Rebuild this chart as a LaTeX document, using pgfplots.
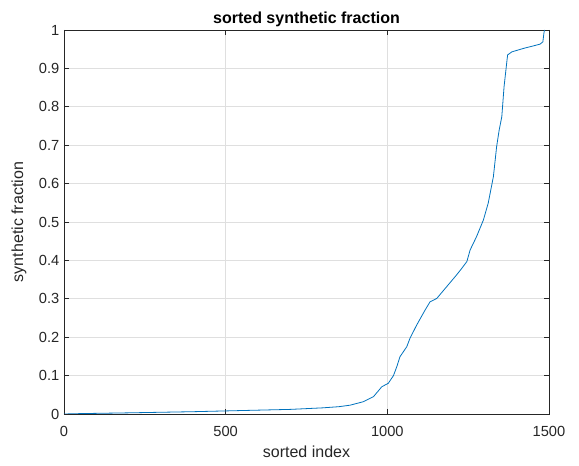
\documentclass[border=0pt]{standalone}
\usepackage{fontspec}
\setmainfont{Liberation Sans}
\usepackage{pgfplots}
\pgfplotsset{compat=1.18}
\definecolor{mlblue}{RGB}{0,114,189}
\definecolor{axgray}{RGB}{38,38,38}
\definecolor{gridgray}{RGB}{223,223,223}
\begin{document}
\begin{tikzpicture}
\useasboundingbox (-48pt,-39pt) rectangle (386.25pt,310.5pt);
\begin{axis}[
  at={(0,0)}, anchor=south west,
  scale only axis,
  width=363.75pt, height=288pt,
  xmin=0, xmax=1500, ymin=0, ymax=1,
  xtick={0,500,1000,1500},
  xticklabels={0,500,1000,1500},
  ytick={0,0.1,0.2,0.3,0.4,0.5,0.6,0.7,0.8,0.9,1},
  yticklabels={0,0.1,0.2,0.3,0.4,0.5,0.6,0.7,0.8,0.9,1},
  /pgf/number format/assume math mode=true,
  tick label style={font=\fontsize{11}{13}\selectfont, text=axgray},
  xticklabel style={yshift=-6pt},
  tick align=inside,
  major tick length=4pt,
  tick style={axgray, line width=0.5pt},
  axis line style={axgray, line width=0.5pt},
  grid=major,
  major grid style={gridgray, line width=0.5pt},
  title={\textbf{sorted synthetic fraction}},
  title style={font=\fontsize{12}{14}\selectfont, yshift=-7.5pt},
  xlabel={sorted index},
  ylabel={synthetic fraction},
  label style={font=\fontsize{12}{14}\selectfont, text=axgray},
  xlabel style={yshift=0pt},
  ylabel style={yshift=2.5pt},
]
\addplot[mlblue, line width=0.6pt] coordinates {
(0,0.000) (50,0.001) (200,0.003) (400,0.006) (500,0.008) (600,0.010)
(700,0.012) (800,0.016) (850,0.019) (885,0.023) (926,0.032) (957,0.045)
(983,0.071) (1003,0.080) (1019,0.100) (1030,0.125) (1039,0.149) (1060,0.175)
(1070,0.197) (1091,0.232) (1117,0.271) (1132,0.292) (1153,0.301) (1184,0.332)
(1214,0.362) (1230,0.379) (1246,0.397) (1256,0.427) (1276,0.462) (1297,0.505)
(1312,0.549) (1328,0.618) (1338,0.696) (1346,0.740) (1354,0.774) (1361,0.852)
(1369,0.913) (1372,0.935) (1385,0.943) (1421,0.952) (1472,0.963) (1481,0.969)
(1484,0.990) (1486,1.000)
};
\end{axis}
\end{tikzpicture}
\end{document}
